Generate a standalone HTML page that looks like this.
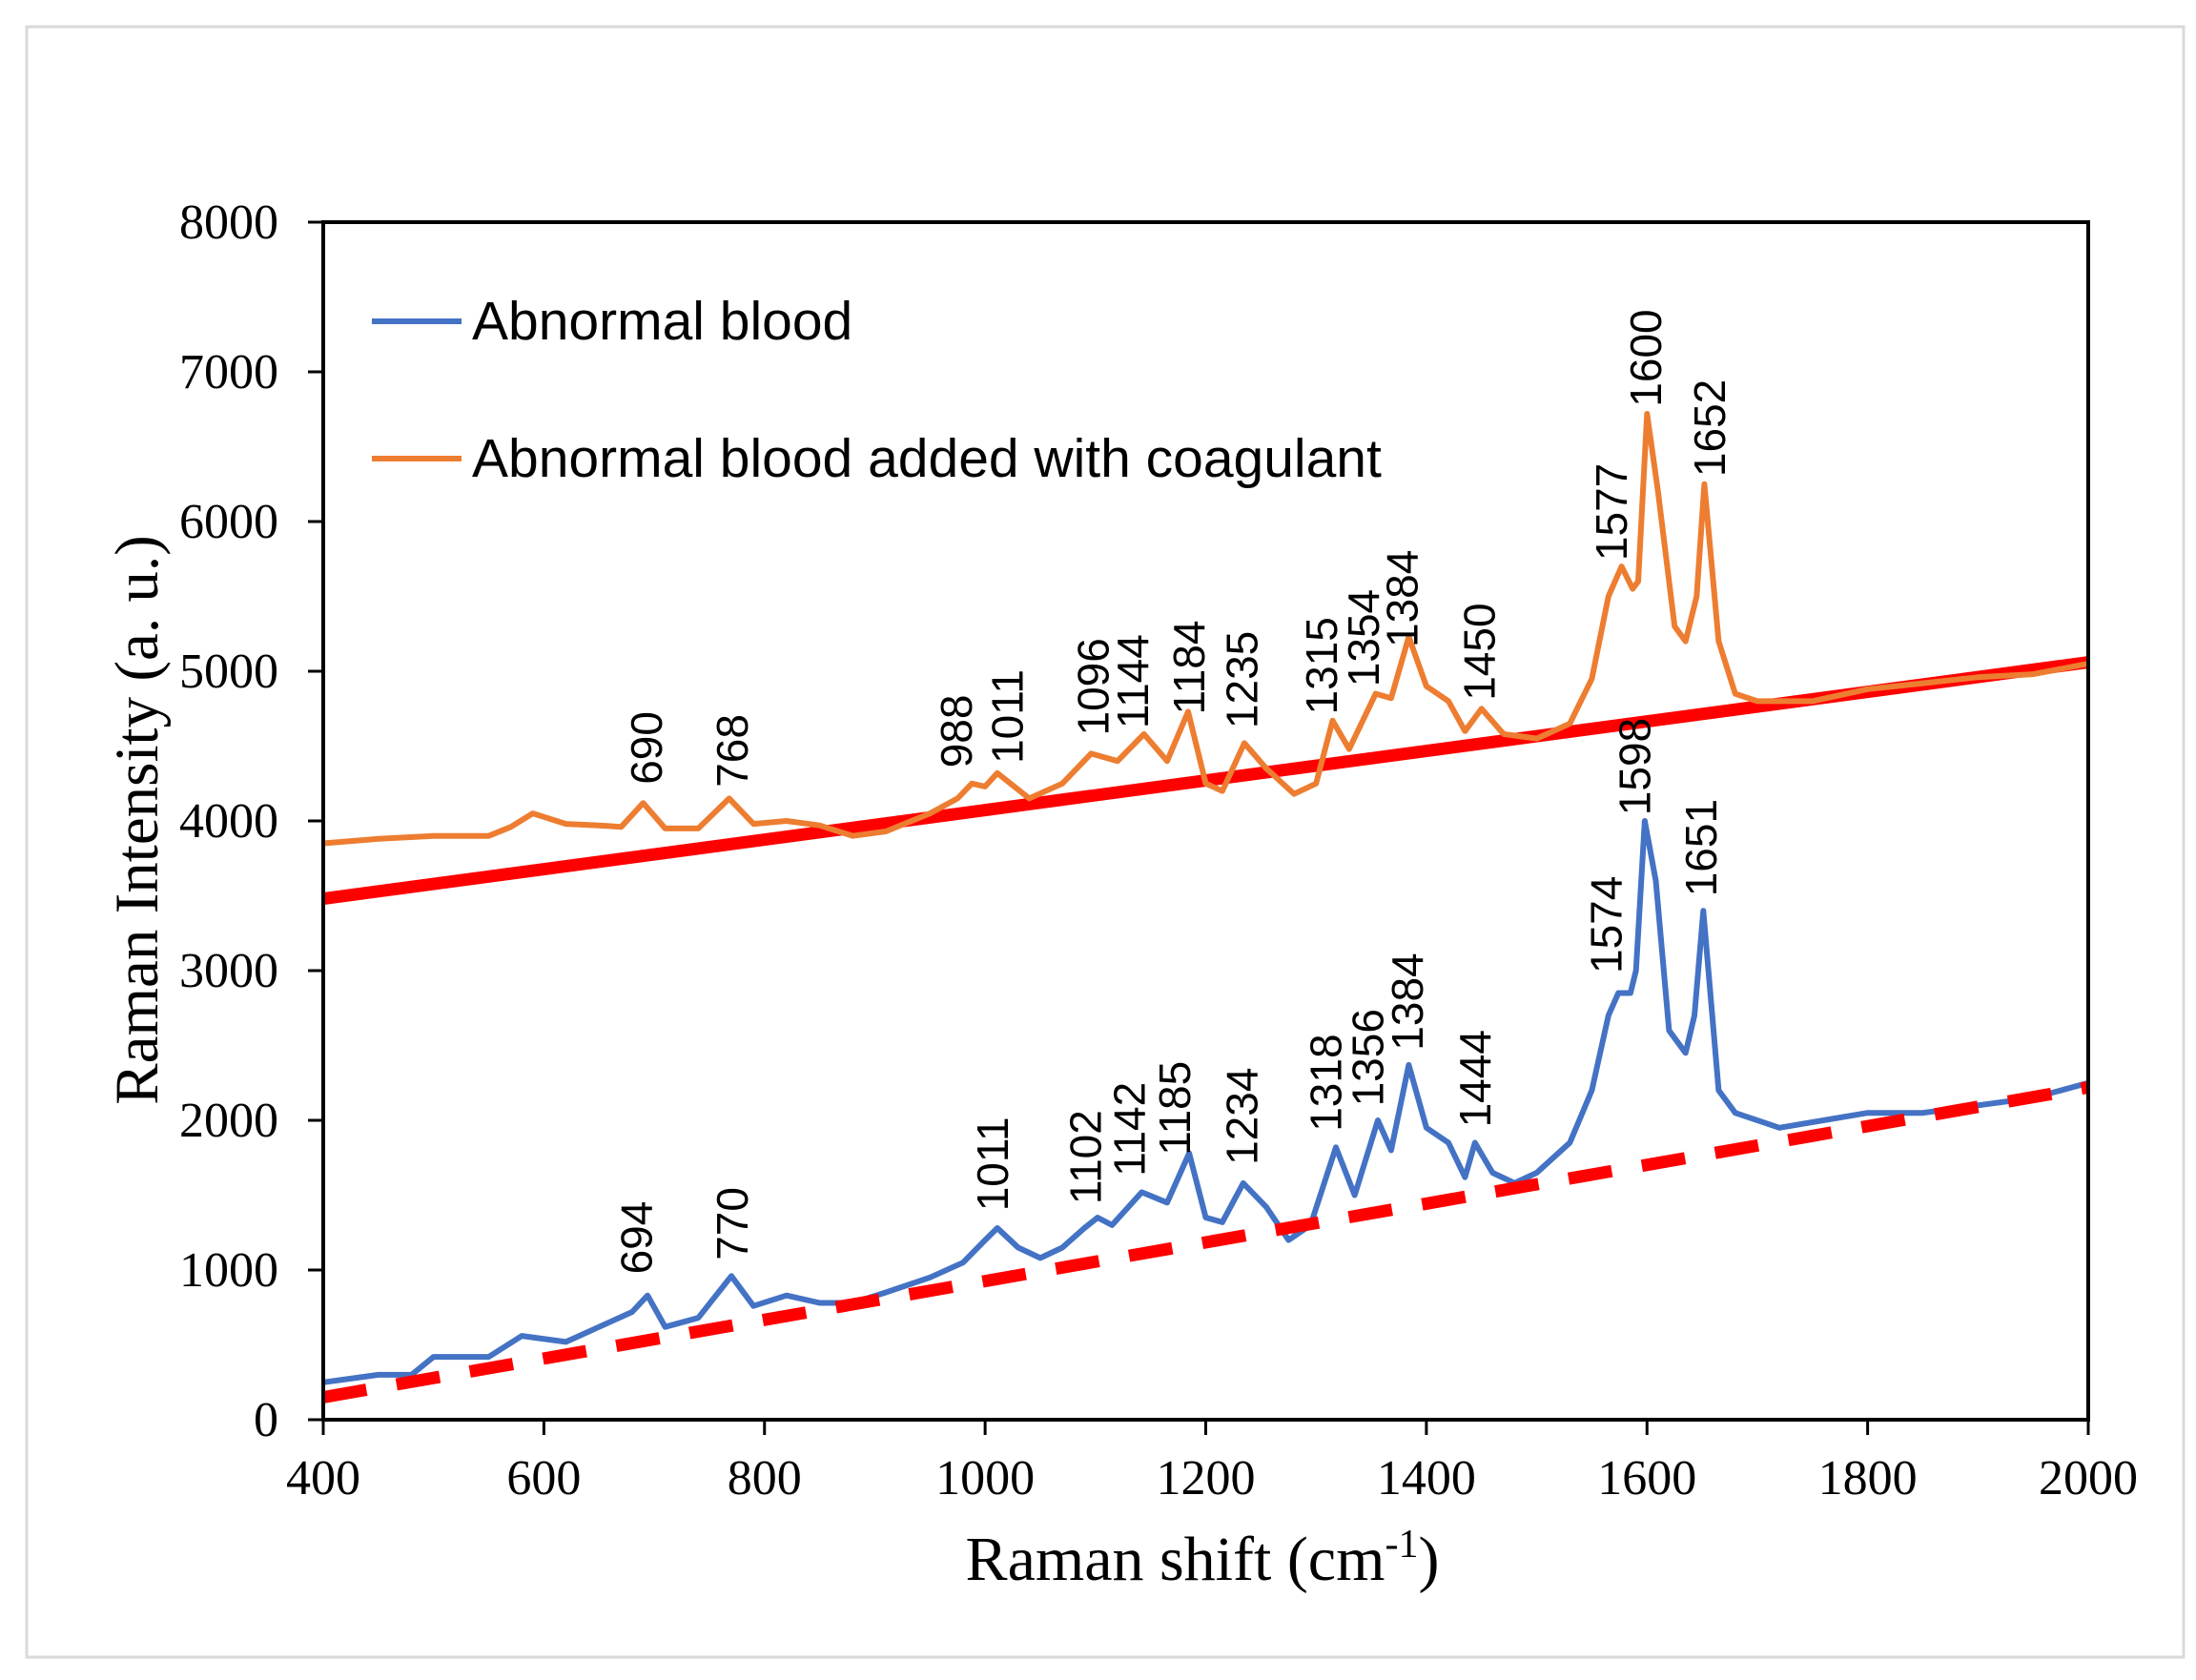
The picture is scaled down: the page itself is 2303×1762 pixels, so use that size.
<!DOCTYPE html>
<html><head><meta charset="utf-8"><style>
html,body{margin:0;padding:0;background:#fff;}
svg{display:block;}
</style></head><body>
<svg id="chart" width="2303" height="1762" viewBox="0 0 2303 1762" xmlns="http://www.w3.org/2000/svg">
<rect x="28" y="28" width="2262" height="1710" fill="#fff" stroke="#d9d9d9" stroke-width="3"/>
<g id="plot"></g>
</svg>
<script>
const xTicks=[400,600,800,1000,1200,1400,1600,1800,2000];
const yTicks=[0,1000,2000,3000,4000,5000,6000,7000,8000];
const orangeX=[400,450,500,550,570,590,620,650,670,690,710,740,768,790,820,850,880,910,950,975,988,1000,1011,1040,1070,1096,1120,1144,1165,1184,1200,1215,1235,1255,1280,1300,1315,1330,1354,1368,1384,1400,1420,1435,1450,1470,1500,1530,1550,1565,1577,1587,1592,1600,1610,1625,1635,1645,1652,1665,1680,1700,1750,1800,1850,1900,1950,2000];
const orangeY=[3850,3880,3900,3900,3960,4050,3980,3970,3960,4120,3950,3950,4150,3980,4000,3970,3900,3930,4050,4150,4250,4230,4320,4150,4250,4450,4400,4580,4400,4730,4250,4200,4520,4350,4180,4250,4670,4480,4850,4820,5230,4900,4800,4600,4750,4580,4550,4650,4950,5500,5700,5550,5600,6720,6200,5300,5200,5500,6250,5200,4850,4800,4800,4880,4920,4960,4980,5050];
const blueX=[400,450,480,500,550,580,620,650,680,694,710,740,770,790,820,850,880,910,950,980,1000,1011,1030,1050,1070,1090,1102,1115,1142,1165,1185,1200,1215,1234,1255,1275,1295,1318,1335,1356,1368,1384,1400,1420,1435,1444,1460,1480,1500,1530,1550,1565,1574,1585,1590,1598,1608,1620,1635,1643,1651,1665,1680,1720,1760,1800,1850,1900,1950,2000];
const blueY=[250,300,300,420,420,560,520,620,720,830,620,680,960,760,830,780,780,850,950,1050,1200,1280,1150,1080,1150,1280,1350,1300,1520,1450,1780,1350,1320,1580,1420,1200,1300,1820,1500,2000,1800,2370,1950,1850,1620,1850,1650,1580,1650,1850,2200,2700,2850,2850,3000,4000,3600,2600,2450,2700,3400,2200,2050,1950,2000,2050,2050,2100,2150,2250];
const orangeLabels=["690","768","988","1011","1096","1144","1184","1235","1315","1354","1384","1450","1577","1600","1652"];
const orangeLabelX=[693,771,974,1020,1098,1134,1185,1233,1305,1343,1378,1448,1568,1599,1657];
const orangeLabelY=[4243,4224,4355,4383,4570,4617,4710,4617,4710,4897,5159,4804,5738,6766,6299];
const blueLabels=["694","770","1011","1102","1142","1185","1234","1318","1356","1384","1444","1574","1598","1651"];
const blueLabelX=[684,771,1007,1091,1131,1172,1233,1309,1347,1383,1444,1563,1589,1649];
const blueLabelY=[972,1065,1393,1439,1626,1766,1701,1925,2093,2467,1953,2981,4037,3495];
const solidFitX=[400,2000];
const solidFitY=[3480,5060];
const dashFitX=[400,2000];
const dashFitY=[150,2220];

const L=339,R=2190,T=233,B=1489;
const sx=v=>L+(v-400)/1600*(R-L);
const sy=v=>B-v/8000*(B-T);
const NS="http://www.w3.org/2000/svg";
const g=document.getElementById('plot');
function mk(tag,attrs,parent){const e=document.createElementNS(NS,tag);for(const k in attrs)e.setAttribute(k,attrs[k]);(parent||g).appendChild(e);return e;}
function pts(xs,ys){return xs.map((x,i)=>sx(x).toFixed(1)+','+sy(ys[i]).toFixed(1)).join(' ');}

let sf=mk('polyline',{points:pts(solidFitX,solidFitY),fill:'none',stroke:'#ff0000','stroke-width':13});


let ob=mk('polyline',{points:pts(orangeX,orangeY),fill:'none',stroke:'#ed7d31','stroke-width':6,'stroke-linejoin':'round'});


let bl=mk('polyline',{points:pts(blueX,blueY),fill:'none',stroke:'#4472c4','stroke-width':6,'stroke-linejoin':'round'});


let df=mk('polyline',{points:pts(dashFitX,dashFitY),fill:'none',stroke:'#ff0000','stroke-width':13,'stroke-dasharray':'46 32'});



function labels(txts,xs,ys,name){txts.forEach((t,i)=>{const x=sx(xs[i])+16,y=sy(ys[i]);
 const e=mk('text',{x:0,y:0,transform:`translate(${x.toFixed(1)},${y.toFixed(1)}) rotate(-90)`,'font-family':'Liberation Sans, sans-serif','font-size':46,fill:'#000'});
 e.textContent=t;
 
 });}
labels(orangeLabels,orangeLabelX,orangeLabelY,'coagulant');
labels(blueLabels,blueLabelX,blueLabelY,'abnormal');

let box=mk('rect',{x:L,y:T,width:R-L,height:B-T,fill:'none',stroke:'#000','stroke-width':4});


yTicks.forEach(v=>{const y=sy(v);
 let tk=mk('line',{x1:L-16,x2:L,y1:y,y2:y,stroke:'#000','stroke-width':3});
 
 
 let t=mk('text',{x:292,y:y+17,'text-anchor':'end','font-family':'Liberation Serif, serif','font-size':52,fill:'#000'});
 t.textContent=v;
 
 });
xTicks.forEach(v=>{const x=sx(v);
 let tk=mk('line',{x1:x,x2:x,y1:B,y2:B+16,stroke:'#000','stroke-width':3});
 
 
 let t=mk('text',{x:x,y:1567,'text-anchor':'middle','font-family':'Liberation Serif, serif','font-size':52,fill:'#000'});
 t.textContent=v;
 
 });
</script>
<script>
(function(){const NS="http://www.w3.org/2000/svg";const svg=document.getElementById('chart');
function mk(tag,a){const e=document.createElementNS(NS,tag);for(const k in a)e.setAttribute(k,a[k]);svg.appendChild(e);return e;}
let yt=mk('text',{x:0,y:0,transform:'translate(165,860) rotate(-90)','text-anchor':'middle','font-family':'Liberation Serif, serif','font-size':65,fill:'#000'});
yt.textContent='Raman Intensity (a. u.)';


let xt=mk('text',{x:1261,y:1657,'text-anchor':'middle','font-family':'Liberation Serif, serif','font-size':66,fill:'#000'});
xt.innerHTML='Raman shift (cm<tspan font-size="42" dy="-24">-1</tspan><tspan dy="24">)</tspan>';


let l1=mk('line',{x1:390,x2:484,y1:337,y2:337,stroke:'#4472c4','stroke-width':6});


let t1=mk('text',{x:495,y:356,'font-family':'Liberation Sans, sans-serif','font-size':57,fill:'#000'});
t1.textContent='Abnormal blood';


let l2=mk('line',{x1:390,x2:484,y1:481,y2:481,stroke:'#ed7d31','stroke-width':6});


let t2=mk('text',{x:495,y:500,'font-family':'Liberation Sans, sans-serif','font-size':57,fill:'#000'});
t2.textContent='Abnormal blood added with coagulant';


})();
</script>
</body></html>
